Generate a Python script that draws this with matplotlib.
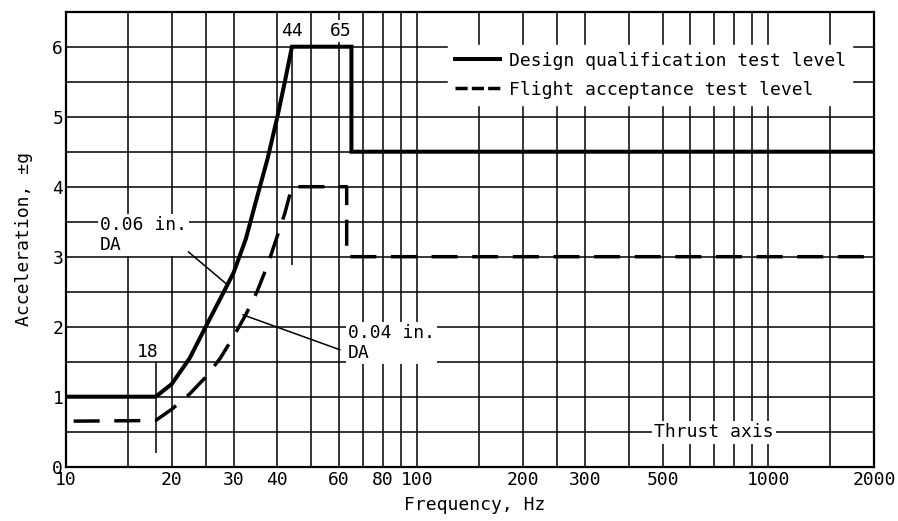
import matplotlib
matplotlib.use("Agg")
import matplotlib.pyplot as plt
from matplotlib.lines import Line2D
from matplotlib.ticker import NullFormatter

# Datos (frecuencia en Hz, aceleracion en g)
# Nivel de calificacion de diseno (linea continua)
freq_design = [10, 18, 20, 22.5, 25, 27.5, 30, 32.5, 35, 37.5, 40, 42, 44, 65, 65, 2000]
acc_design = [1.0, 1.0, 1.18, 1.55, 2.0, 2.4, 2.77, 3.25, 3.85, 4.4, 5.0, 5.5, 6.0, 6.0, 4.5, 4.5]

# Nivel de aceptacion de vuelo (linea discontinua)
freq_flight = [10, 18, 20, 22.5, 25, 27.5, 30, 32.5, 35, 37.5, 40, 42, 44, 63, 63, 2000]
acc_flight = [0.65, 0.66, 0.82, 1.04, 1.28, 1.55, 1.86, 2.17, 2.5, 2.88, 3.3, 3.62, 4.0, 4.0, 3.0, 3.0]

xtick_vals = [10, 20, 30, 40, 60, 80, 100, 200, 300, 500, 1000, 2000]
xtick_labels = ["10", "20", "30", "40", "60", "80", "100", "200", "300", "500", "1000", "2000"]
xgrid_minor = [15, 25, 50, 70, 90, 150, 250, 400, 600, 700, 800, 900, 1500]
ytick_vals = [0, 1, 2, 3, 4, 5, 6]
ygrid_minor = [0.5, 1.5, 2.5, 3.5, 4.5, 5.5]

FONT = "DejaVu Sans Mono"
FS = 13
plt.rcParams["font.family"] = FONT

fig = plt.figure(figsize=(8.98, 5.21), dpi=100)
ax = fig.add_axes([66 / 898, 54.3 / 521, 808 / 898, 455 / 521])

ax.set_xscale("log")
ax.set_xlim(10, 2000)
ax.set_ylim(0, 6.5)

ax.set_xticks(xtick_vals)
ax.set_xticklabels(xtick_labels)
ax.set_xticks(xgrid_minor, minor=True)
ax.xaxis.set_minor_formatter(NullFormatter())
ax.set_yticks(ytick_vals)
ax.set_yticks(ygrid_minor, minor=True)

ax.set_axisbelow(True)
ax.grid(True, which="both", color="black", lw=1.1)
ax.tick_params(which="both", length=0, labelsize=FS)
ax.tick_params(axis="x", pad=3)
ax.tick_params(axis="y", pad=2)
for s in ax.spines.values():
    s.set_linewidth(1.6)

# curvas
ax.plot(freq_design, acc_design, color="black", lw=2.9, solid_joinstyle="miter", zorder=4)
ax.plot(freq_flight, acc_flight, color="black", lw=2.5, linestyle=(9.5, (7.5, 4.2)), zorder=4)

# marcas verticales en 18 y 44 Hz
ax.vlines(18, 0.2, 1.5, color="black", lw=1.1)
ax.vlines(44, 2.88, 6.0, color="black", lw=1.1)

box = dict(facecolor="white", edgecolor="none", pad=1.5)
ax.text(44, 6.22, "44", fontsize=FS, ha="center", va="center", bbox=box, zorder=3)
ax.text(60.5, 6.22, "65", fontsize=FS, ha="center", va="center", bbox=box, zorder=3)
ax.text(17.1, 1.64, "18", fontsize=FS, ha="center", va="center", zorder=3)

ax.text(12.5, 3.31, "0.06 in.\nDA", fontsize=FS, ha="left", va="center",
        linespacing=1.1, bbox=box, zorder=3)
ax.annotate("", xy=(28.8, 2.6), xytext=(22.3, 3.07),
            arrowprops=dict(arrowstyle="-", color="black", lw=1.1, shrinkA=0, shrinkB=0))

ax.text(63.5, 1.77, "0.04 in.\nDA", fontsize=FS, ha="left", va="center",
        linespacing=1.1, bbox=box, zorder=3)
ax.annotate("", xy=(31.9, 2.17), xytext=(60.3, 1.67),
            arrowprops=dict(arrowstyle="-", color="black", lw=1.1, shrinkA=0, shrinkB=0))

ax.text(700, 0.49, "Thrust axis", fontsize=FS, ha="center", va="center", bbox=box, zorder=3)

# leyenda
handles = [Line2D([], [], color="black", lw=2.9),
           Line2D([], [], color="black", lw=2.5, linestyle=(0, (3.5, 1.2)))]
labels = ["Design qualification test level", "Flight acceptance test level"]
leg = ax.legend(handles, labels, loc="upper left", bbox_to_anchor=(0.473, 0.926),
                frameon=True, fancybox=False, edgecolor="white", facecolor="white",
                framealpha=1, borderpad=0.35, handlelength=2.5, handletextpad=0.5,
                labelspacing=0.6, borderaxespad=0, prop={"family": FONT, "size": FS})
leg.set_zorder(5)

ax.set_xlabel("Frequency, Hz", fontsize=FS)
ax.set_ylabel("Acceleration, \u00b1g", fontsize=FS)
ax.xaxis.set_label_coords(0.506, -0.064)
ax.yaxis.set_label_coords(-0.041, 0.5)

fig.savefig("out.png", dpi=100)
